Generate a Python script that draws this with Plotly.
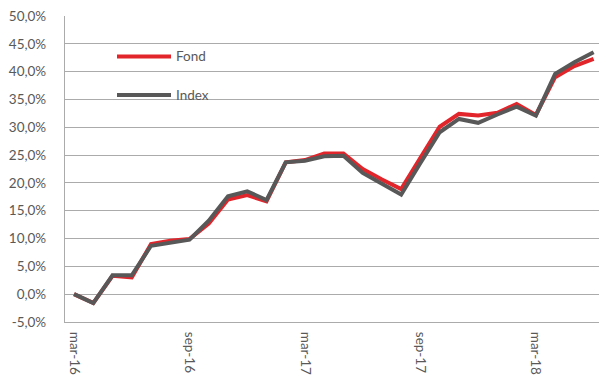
import plotly.graph_objects as go

# Monthly cumulative returns (%), Mar 2016 – Jun 2018
months = ["mar-16", "apr-16", "maj-16", "jun-16", "jul-16", "aug-16", "sep-16",
          "okt-16", "nov-16", "dec-16", "jan-17", "feb-17", "mar-17", "apr-17",
          "maj-17", "jun-17", "jul-17", "aug-17", "sep-17", "okt-17", "nov-17",
          "dec-17", "jan-18", "feb-18", "mar-18", "apr-18", "maj-18", "jun-18"]
fond = [0.0, -1.6, 3.3, 3.0, 9.0, 9.6, 9.9, 12.7, 17.0, 17.8, 16.7, 23.7, 24.1, 25.3,
        25.3, 22.5, 20.6, 18.9, 24.5, 30.1, 32.4, 32.1, 32.6, 34.2, 32.2, 39.0, 41.0, 42.3]
index = [0.0, -1.6, 3.4, 3.4, 8.7, 9.3, 9.8, 13.2, 17.6, 18.5, 16.9, 23.7, 24.0, 24.8,
         24.9, 21.8, 19.9, 17.9, 23.6, 29.1, 31.5, 30.8, 32.3, 33.7, 32.1, 39.6, 41.7, 43.5]
x_ticks = ["mar-16", "sep-16", "mar-17", "sep-17", "mar-18"]
y_ticks = [-5, 0, 5, 10, 15, 20, 25, 30, 35, 40, 45, 50]

RED = "#E2252B"
GREY = "#585858"
GRID = "#ABABAB"
TEXT = "#595959"
FONT = "Lato, 'Open Sans', sans-serif"

xs = list(range(len(months)))

fig = go.Figure()
fig.add_trace(go.Scatter(x=xs, y=fond, name="Fond", mode="lines",
                         line=dict(color=RED, width=4), hoverinfo="skip"))
fig.add_trace(go.Scatter(x=xs, y=index, name="Index", mode="lines",
                         line=dict(color=GREY, width=4), hoverinfo="skip"))

tick_pos = [months.index(t) for t in x_ticks]

fig.update_layout(
    width=599, height=378,
    margin=dict(l=65, r=0, t=16, b=56),
    paper_bgcolor="white", plot_bgcolor="white",
    showlegend=False,
    font=dict(family=FONT, size=13.5, color=TEXT),
    xaxis=dict(
        range=[-0.47, 27.28],
        tickvals=tick_pos, ticktext=x_ticks, tickangle=90,
        showgrid=False, zeroline=False,
        showline=True, linecolor=GRID, linewidth=1.2,
        ticks="", ticklabelstandoff=6,
        tickfont=dict(family=FONT, size=13.5, color=TEXT),
    ),
    yaxis=dict(
        range=[-5, 50],
        tickvals=y_ticks,
        ticktext=[f"{v:.1f}%".replace(".", ",") for v in y_ticks],
        showgrid=True, gridcolor=GRID, gridwidth=1.2,
        zeroline=False, showline=True, linecolor=GRID, linewidth=1.2,
        ticks="", ticklabelstandoff=15,
        tickfont=dict(family=FONT, size=13.5, color=TEXT),
    ),
)

# Legend drawn inside the plot area
legend_items = [("Fond", RED, 56.5), ("Index", GREY, 95)]
for label, color, ypx in legend_items:
    yp = 1 - (ypx - 16) / (322 - 16)
    x0 = (117 - 65) / (599 - 65)
    x1 = (171 - 65) / (599 - 65)
    fig.add_shape(type="line", xref="paper", yref="paper", x0=x0, x1=x1, y0=yp, y1=yp,
                  line=dict(color=color, width=4))
    fig.add_annotation(xref="paper", yref="paper", x=(174 - 65) / (599 - 65), y=yp,
                       text=label, showarrow=False, xanchor="left", yanchor="middle",
                       font=dict(family=FONT, size=13.5, color=TEXT))

fig.write_html("out.html")
